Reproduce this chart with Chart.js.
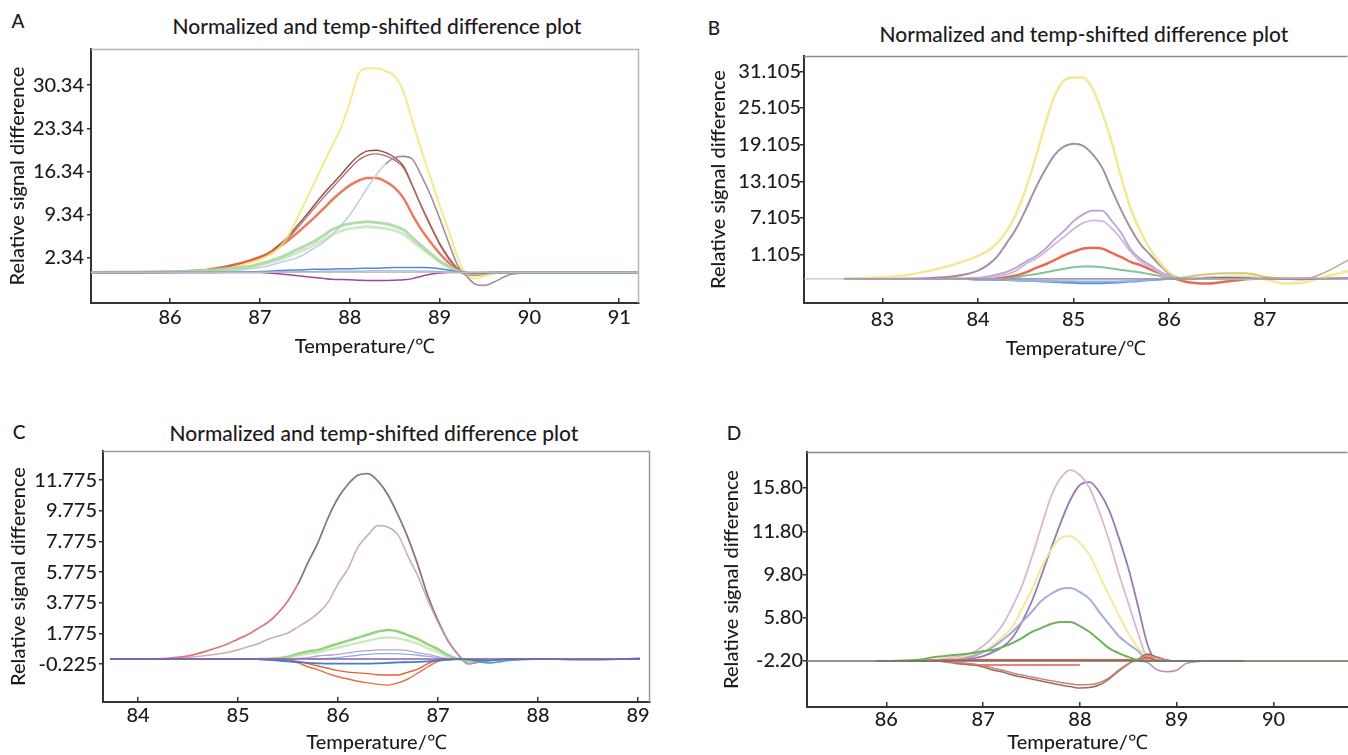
<!DOCTYPE html>
<html><head><meta charset="utf-8">
<script src="https://cdn.jsdelivr.net/npm/chart.js@4.4.1/dist/chart.umd.min.js"></script>
<style>
body{margin:0;background:#fff;width:1348px;height:755px;position:relative;overflow:hidden;font-family:Lato,"Open Sans",sans-serif;color:#1e1a1b;font-weight:500}
canvas{position:absolute}
.lbl{position:absolute;font-size:19px;line-height:1;transform:translate(-50%,-50%)}
.ttl{position:absolute;font-size:21px;line-height:1;white-space:nowrap;transform:translate(-50%,-50%)}
</style></head><body>
<div class="lbl" style="left:18px;top:20px">A</div>
<div class="ttl" style="left:377px;top:25px">Normalized and temp-shifted difference plot</div>
<div class="lbl" style="left:714px;top:27px">B</div>
<div class="ttl" style="left:1084px;top:33px">Normalized and temp-shifted difference plot</div>
<div class="lbl" style="left:19px;top:431px">C</div>
<div class="ttl" style="left:374px;top:432px">Normalized and temp-shifted difference plot</div>
<div class="lbl" style="left:734px;top:432px">D</div>
<canvas id="cA" width="674" height="365" style="left:0;top:0;width:674px;height:365px"></canvas>
<canvas id="cB" width="674" height="365" style="left:674px;top:0;width:674px;height:365px"></canvas>
<canvas id="cC" width="674" height="375" style="left:0;top:380px;width:674px;height:375px"></canvas>
<canvas id="cD" width="674" height="375" style="left:674px;top:380px;width:674px;height:375px"></canvas>
<script>
// ---------- Panel A ----------
const aXTicks = [86, 87, 88, 89, 90, 91];
const aYTicks = [2.34, 9.34, 16.34, 23.34, 30.34];
const aYLabels = ['2.34', '9.34', '16.34', '23.34', '30.34'];
const aXRange = [85.12, 91.22];
const aYRange = [-4.95, 36.2];
const aBase = 0;
const aTemp = [85.12,86.0,86.4,86.7,86.9,87.0,87.1,87.2,87.3,87.4,87.5,87.6,87.7,87.8,87.9,88.0,88.1,88.2,88.3,88.4,88.5,88.6,88.7,88.8,88.9,89.0,89.1,89.2,89.3,89.4,89.5,89.6,89.8,90.2,91.2];
const aYellow = [0,0.1,0.3,0.8,1.6,2.1,2.8,3.8,5.5,8.3,11.3,14.3,17.4,20.4,23.4,27.5,32.2,33.1,33.1,32.6,31.8,29.2,24.4,19.7,15.3,10.9,6.8,2.5,-0.3,-1.0,-0.6,-0.2,0,0,0];
const aBrown1 = [0,0.1,0.4,1.2,2.0,2.5,3.2,4.3,5.6,7.3,9.0,10.8,12.6,14.2,15.8,17.5,18.9,19.7,19.8,19.4,18.6,17.2,14.0,10.6,7.5,4.6,2.3,0.6,-0.2,-0.4,-0.2,0,0,0,0];
const aBrown2 = [0,0.1,0.4,1.1,1.9,2.4,3.0,4.0,5.3,6.9,8.6,10.3,12.0,13.6,15.2,16.8,18.2,19.0,19.2,18.9,18.2,16.9,13.9,10.7,7.7,4.8,2.5,0.7,-0.1,-0.3,-0.2,0,0,0,0];
const aMauve = [0,0,0.1,0.3,0.6,0.8,1.1,1.5,1.9,2.3,3.0,3.9,4.8,6.0,7.6,9.3,11.5,13.8,15.9,17.6,18.6,18.8,18.3,15.6,12.5,8.8,4.9,1.2,-0.6,-1.9,-2.1,-1.6,-0.3,0,0];
const aOrange = [0,0.1,0.4,1.2,2.0,2.5,3.1,4.0,5.0,6.2,7.5,8.8,10.2,11.7,13.0,14.1,14.9,15.3,15.3,14.7,13.7,12.0,9.3,6.9,4.9,3.1,1.6,0.4,-0.3,-0.4,-0.2,0,0,0,0];
const aGreen1 = [0,0.1,0.3,0.7,1.0,1.4,1.8,2.3,2.9,3.6,4.3,5.0,5.9,6.9,7.5,7.9,8.1,8.2,8.1,7.9,7.5,6.9,5.6,4.3,3.1,1.9,1.0,0.3,-0.1,-0.2,-0.1,0,0,0,0];
const aGreen2 = [0,0.1,0.3,0.6,0.9,1.2,1.6,2.0,2.5,3.1,3.7,4.4,5.2,6.1,6.7,7.1,7.3,7.4,7.3,7.1,6.8,6.2,5.0,3.9,2.8,1.7,0.9,0.3,-0.1,-0.2,-0.1,0,0,0,0];
const aBlue1 = [0,0,0,0.05,0.1,0.15,0.2,0.3,0.35,0.4,0.45,0.5,0.5,0.55,0.6,0.6,0.65,0.7,0.7,0.75,0.8,0.8,0.8,0.8,0.75,0.6,0.4,0.1,0,-0.1,-0.1,0,0,0,0];
const aBlue2 = [0,0,0,0,0,0.05,0.05,0.1,0.1,0.1,0.15,0.15,0.2,0.2,0.2,0.2,0.2,0.25,0.25,0.25,0.25,0.25,0.25,0.2,0.2,0.15,0.1,0.05,0,0,0,0,0,0,0];
const aPurple = [0,0,0,0,0,0,-0.1,-0.2,-0.35,-0.5,-0.65,-0.8,-0.95,-1.1,-1.15,-1.2,-1.25,-1.3,-1.3,-1.3,-1.25,-1.2,-1.0,-0.6,-0.3,-0.1,0,0,0,0,0,0,0,0,0];

// ---------- Panel B ----------
const bXTicks = [83, 84, 85, 86, 87];
const bYTicks = [1.105, 7.105, 13.105, 19.105, 25.105, 31.105];
const bYLabels = ['1.105', '7.105', '13.105', '19.105', '25.105', '31.105'];
const bXRange = [82.18, 87.87];
const bYRange = [-6.8, 33.6];
const bBase = -2.85;
const bTemp = [82.6,83.0,83.3,83.5,83.7,83.9,84.0,84.1,84.2,84.3,84.4,84.5,84.6,84.7,84.8,84.9,85.0,85.1,85.2,85.3,85.4,85.5,85.6,85.7,85.8,85.9,86.0,86.1,86.2,86.4,86.6,86.8,87.0,87.2,87.4,87.6,87.87];
const bYellow = [-2.85,-2.6,-2.1,-1.5,-0.7,0.3,0.9,1.7,3.0,5.0,7.8,11.9,16.8,22.3,27.0,29.6,30.1,30.1,28.2,24.3,19.4,13.6,8.5,4.9,2.0,-0.2,-1.8,-2.8,-2.9,-2.7,-2.5,-2.4,-2.9,-3.6,-3.5,-2.6,-1.6];
const bMauve = [-2.85,-2.85,-2.8,-2.7,-2.5,-2.0,-1.5,-0.6,0.8,3.0,5.4,8.5,11.9,14.9,17.4,18.8,19.25,18.9,17.5,15.3,11.7,8.3,5.3,2.8,1.1,-0.6,-2.0,-2.7,-2.85,-2.85,-2.85,-2.85,-2.85,-2.85,-2.85,-2.85,-2.85];
const bLav1 = [-2.85,-2.85,-2.85,-2.85,-2.85,-2.8,-2.7,-2.5,-2.1,-1.7,-1.0,0.0,0.8,2.0,3.6,5.0,6.6,7.7,8.3,8.3,6.6,4.6,1.9,0.4,-0.6,-1.6,-2.4,-2.8,-2.85,-2.6,-2.5,-2.7,-2.85,-2.85,-2.85,-2.85,-2.85];
const bLav2 = [-2.85,-2.85,-2.85,-2.85,-2.85,-2.85,-2.8,-2.7,-2.4,-2.1,-1.5,-0.4,0.4,1.5,2.8,4.0,5.3,6.3,6.7,6.6,5.4,3.6,1.5,0.0,-0.9,-1.8,-2.5,-2.85,-2.85,-2.85,-2.85,-2.85,-2.85,-2.85,-2.85,-2.85,-2.85];
const bOrange = [null,null,null,-2.85,-2.85,-2.85,-2.85,-2.85,-2.8,-2.6,-2.3,-1.8,-1.1,-0.5,0.2,1.0,1.6,2.1,2.25,2.1,1.4,0.7,-0.1,-0.6,-1.3,-1.9,-2.4,-3.0,-3.4,-3.6,-3.3,-2.9,-2.8,-2.85,-2.85,-2.85,-2.85];
const bGreen = [null,null,null,null,null,-2.9,-3.0,-3.0,-2.95,-2.8,-2.6,-2.3,-2.1,-1.8,-1.5,-1.2,-0.95,-0.85,-0.85,-0.95,-1.15,-1.4,-1.6,-1.8,-2.1,-2.4,-2.7,-2.85,-2.85,-2.85,-2.8,-2.85,null,null,null,null,null];
const bBlue1 = [null,null,null,null,null,-2.85,-2.9,-2.95,-3.0,-3.05,-3.1,-3.15,-3.2,-3.3,-3.35,-3.45,-3.5,-3.55,-3.55,-3.55,-3.5,-3.4,-3.3,-3.2,-3.05,-2.95,-2.85,-2.85,null,null,null,null,null,null,null,null,null];
const bBlue2 = [null,null,null,null,null,null,-2.85,-2.9,-2.95,-3.0,-3.05,-3.1,-3.15,-3.2,-3.2,-3.25,-3.25,-3.3,-3.3,-3.3,-3.3,-3.25,-3.2,-3.1,-3.0,-2.9,-2.85,null,null,null,null,null,null,null,null,null,null];
const bPurple = [-2.85,-2.85,-2.85,-2.85,-2.85,-2.85,-2.85,-2.85,-2.85,-2.85,-2.85,-2.85,-2.85,-2.85,-2.85,-2.85,-2.85,-2.85,-2.85,-2.85,-2.85,-2.85,-2.85,-2.85,-2.85,-2.85,-2.85,-2.85,-2.85,-2.75,-2.65,-2.7,-2.85,-2.9,-2.95,-2.85,-2.75];
const bOlive = [null,null,null,null,null,null,null,null,null,null,null,null,null,null,null,null,null,null,null,null,null,null,null,null,null,null,-2.85,-2.7,-2.5,-2.1,-1.95,-1.95,-2.5,-2.85,null,null,null];
const bGrayEnd = [null,null,null,null,null,null,null,null,null,null,null,null,null,null,null,null,null,null,null,null,null,null,null,null,null,null,null,null,null,null,null,null,null,-2.85,-2.9,-2.0,0.2];

// ---------- Panel C ----------
const cXTicks = [84, 85, 86, 87, 88, 89];
const cYTicks = [-0.225, 1.775, 3.775, 5.775, 7.775, 9.775, 11.775];
const cYLabels = ['-0.225', '1.775', '3.775', '5.775', '7.775', '9.775', '11.775'];
const cXRange = [83.65, 89.12];
const cYRange = [-2.7, 13.67];
const cTemp = [83.72,84.0,84.3,84.5,84.7,84.9,85.0,85.1,85.2,85.3,85.4,85.5,85.6,85.7,85.8,85.9,86.0,86.1,86.2,86.3,86.4,86.5,86.6,86.7,86.8,86.9,87.0,87.1,87.2,87.3,87.4,87.5,87.7,88.0,88.5,89.02];
const cBig = [0.1,0.1,0.15,0.3,0.65,1.1,1.4,1.7,2.1,2.5,3.1,3.9,5.0,6.4,7.7,9.3,10.6,11.5,12.1,12.2,11.7,10.8,9.5,8.0,6.2,4.2,2.6,1.3,0.4,-0.2,-0.1,0.0,0.1,0.1,0.1,0.1];
const cSecond = [0.1,0.1,0.1,0.2,0.35,0.55,0.7,0.9,1.1,1.4,1.6,1.8,2.2,2.6,3.1,3.8,5.0,6.0,7.4,8.2,8.8,8.7,8.2,6.8,5.5,3.9,2.5,1.3,0.4,-0.2,-0.1,0.0,0.1,0.1,0.1,0.1];
const cGreen1 = [null,null,null,null,null,null,null,null,0.1,0.1,0.15,0.25,0.45,0.6,0.7,0.9,1.1,1.3,1.5,1.7,1.9,2.0,1.9,1.65,1.4,1.05,0.75,0.35,0.1,0.0,0.0,0.1,null,null,null,null];
const cGreen2 = [null,null,null,null,null,null,null,null,0.1,0.1,0.12,0.2,0.35,0.45,0.55,0.7,0.85,1.0,1.15,1.3,1.45,1.5,1.45,1.3,1.1,0.8,0.55,0.25,0.1,0.0,0.05,0.1,null,null,null,null];
const cLav = [null,null,null,null,null,null,null,null,null,null,0.1,0.1,0.15,0.2,0.3,0.35,0.4,0.5,0.6,0.65,0.7,0.7,0.7,0.65,0.5,0.4,0.25,0.1,0.1,null,null,null,null,null,null,null];
const cBlue1 = [null,null,null,null,null,null,null,null,null,null,null,null,null,0.1,0.12,0.15,0.2,0.28,0.35,0.4,0.45,0.45,0.45,0.4,0.35,0.28,0.2,0.12,0.1,null,null,null,null,null,null,null];
const cBlue2 = [0.1,0.1,0.1,0.1,0.1,0.1,0.1,0.1,0.1,0.05,0.0,-0.05,-0.1,-0.15,-0.18,-0.2,-0.2,-0.2,-0.2,-0.2,-0.18,-0.15,-0.12,-0.1,-0.08,-0.05,0.0,0.05,0.1,0.1,0.05,0.0,0.1,0.1,0.1,0.1];
const cPurpleBase = [0.1,0.1,0.1,0.1,0.1,0.1,0.1,0.1,0.1,0.1,0.1,0.1,0.1,0.1,0.1,0.1,0.1,0.1,0.1,0.1,0.1,0.1,0.1,0.1,0.1,0.1,0.1,0.1,0.1,0.1,0.1,0.1,0.1,0.1,0.05,0.15];
const cTeal = [null,null,null,null,null,null,null,null,null,null,null,null,null,null,null,null,null,null,null,null,null,null,null,null,null,null,null,null,0.1,0.05,-0.05,-0.15,0.0,0.1,null,null];
const cOrange1 = [null,null,null,null,null,null,null,null,null,0.1,0.1,0.05,-0.05,-0.2,-0.35,-0.5,-0.65,-0.75,-0.8,-0.85,-0.92,-0.94,-0.94,-0.75,-0.55,-0.2,0.05,0.1,null,null,null,null,null,null,null,null];
const cOrange2 = [null,null,null,null,null,null,null,null,null,0.1,0.1,0.0,-0.15,-0.4,-0.6,-0.85,-1.05,-1.2,-1.35,-1.45,-1.55,-1.6,-1.45,-1.2,-0.8,-0.4,-0.05,0.1,null,null,null,null,null,null,null,null];

// ---------- Panel D ----------
const dXTicks = [86, 87, 88, 89, 90];
const dYTicks = [-2.2, 5.8, 9.8, 11.8, 15.8];
const dYLabels = ['-2.20', '5.80', '9.80', '11.80', '15.80'];
const dXRange = [85.18, 90.77];
const dYRange = [-10.7, 19.13];
const dBase = -2.2;
const dTemp = [85.9,86.3,86.5,86.7,86.9,87.0,87.1,87.2,87.3,87.4,87.5,87.6,87.7,87.8,87.9,88.0,88.1,88.2,88.3,88.4,88.5,88.6,88.7,88.8,88.9,89.0,89.1,89.3,89.7,90.2,90.77];
const dPink = [-2.2,-2.2,-2.02,-1.46,-0.54,0.57,2.24,4.46,6.79,8.74,10.56,12.19,14.97,16.72,17.46,17.0,15.8,13.58,11.40,9.87,7.16,2.98,-1.65,-2.02,-2.2,-2.2,null,null,null,null,null];
const dPurple = [-2.2,-2.2,-2.02,-1.83,-1.65,-1.28,-0.54,0.39,2.05,5.01,7.26,9.66,10.98,12.56,14.69,16.08,16.35,15.43,13.77,11.53,10.10,6.89,0.76,-2.2,-2.2,-2.2,null,null,null,null,null];
const dYellow = [null,-2.2,-2.2,-1.83,-1.09,-0.54,0.76,2.24,4.09,6.61,8.37,10.10,10.93,11.49,11.58,11.26,10.70,9.75,7.90,6.06,2.98,0.20,-1.2,-2.02,-2.2,-2.2,-2.2,-2.2,-2.2,-2.2,-2.2];
const dBlue = [-2.2,-2.2,-2.2,-2.02,-1.28,-0.54,0.39,1.69,3.16,5.01,6.33,7.35,8.0,8.46,8.55,8.18,7.53,6.33,4.64,2.42,0.95,-0.35,-2.02,-2.2,-2.2,-2.2,null,null,null,null,null];
const dGreen = [-2.2,-2.02,-1.46,-1.09,-0.72,-0.35,-0.17,0.39,1.13,2.05,3.16,3.90,4.64,5.01,5.01,4.27,3.16,1.69,0.20,-0.72,-1.46,-2.02,-2.2,-2.15,-2.2,-2.2,-2.2,-2.2,-2.2,null,null];
const dBrown1 = [-2.2,-2.2,-2.2,-2.57,-2.94,-3.31,-3.86,-4.23,-4.79,-5.16,-5.53,-5.90,-6.27,-6.64,-6.92,-7.19,-7.10,-6.64,-5.53,-4.05,-2.75,-1.83,-0.91,-1.46,-2.02,-2.2,-2.2,null,null,null,null];
const dBrown2 = [-2.2,-2.2,-2.2,-2.45,-2.75,-3.05,-3.5,-3.9,-4.4,-4.8,-5.15,-5.5,-5.85,-6.15,-6.4,-6.6,-6.55,-6.2,-5.3,-3.9,-2.7,-1.9,-1.2,-1.6,-2.1,-2.2,-2.2,null,null,null,null];
const dRed1 = [null,-2.1,-2.05,-2.02,-2.02,-2.02,-2.02,-2.02,-2.02,-2.02,-2.02,-2.02,-2.02,-2.02,-2.02,-2.02,-2.02,-2.02,-2.02,-2.02,-2.02,-2.02,-1.6,-2.1,-2.2,null,null,null,null,null,null];
const dRed2 = [null,null,null,-2.6,-2.9,-2.94,-2.94,-2.94,-2.94,-2.94,-2.94,-2.94,-2.94,-2.94,-2.94,-2.94,null,null,null,null,null,null,null,null,null,null,null,null,null,null,null];
const dPinkDip = [null,null,null,null,null,null,null,null,null,null,null,null,null,null,null,null,null,null,null,null,null,-2.2,-2.5,-3.86,-4.18,-3.9,-2.63,-2.2,null,null,null];

// ---------- helpers ----------
const FONT = 'Lato, "Open Sans", sans-serif';
const TXT = '#1e1a1b';
const TICKFONT = {family: FONT, size: 20, weight: '500'};
const TITLEFONT = {family: FONT, size: 20, weight: '500'};

function series(xs, ys, color, width, extra) {
  const data = [];
  xs.forEach((x, i) => { if (ys[i] !== null && ys[i] !== undefined) data.push({x: x, y: ys[i]}); });
  return Object.assign({data, borderColor: color, borderWidth: width, pointRadius: 0, fill: false,
    cubicInterpolationMode: 'monotone'}, extra || {});
}
function baseline(range, value, color, width) {
  return {data: [{x: range[0], y: value}, {x: range[1], y: value}], borderColor: color,
    borderWidth: width, pointRadius: 0, fill: false, tension: 0};
}

// piecewise axis for panel D (its tick labels sit evenly spaced on the page)
function knotPos(v) {
  const k = dYTicks, n = k.length;
  if (v <= k[1]) return (v - k[0]) / (k[1] - k[0]);
  for (let i = 1; i < n - 1; i++) if (v <= k[i + 1]) return i + (v - k[i]) / (k[i + 1] - k[i]);
  return (n - 2) + (v - k[n - 2]) / (k[n - 1] - k[n - 2]);
}
function knotVal(p) {
  const k = dYTicks, n = k.length;
  if (p <= 1) return k[0] + p * (k[1] - k[0]);
  for (let i = 1; i < n - 1; i++) if (p <= i + 1) return k[i] + (p - i) * (k[i + 1] - k[i]);
  return k[n - 2] + (p - (n - 2)) * (k[n - 1] - k[n - 2]);
}
class KnotScale extends Chart.LinearScale {
  getPixelForValue(value) {
    if (value === null || value === undefined || isNaN(value)) return NaN;
    const a = knotPos(this.min), b = knotPos(this.max);
    return this.getPixelForDecimal((knotPos(value) - a) / (b - a));
  }
  getValueForPixel(pixel) {
    const a = knotPos(this.min), b = knotPos(this.max);
    return knotVal(a + this.getDecimalForPixel(pixel) * (b - a));
  }
}
KnotScale.id = 'knotLinear';
KnotScale.defaults = Chart.LinearScale.defaults;
Chart.register(KnotScale);

const framePlugin = {
  id: 'frame',
  afterDatasetsDraw(chart, args, opts) {
    const ctx = chart.ctx, a = chart.chartArea;
    ctx.save();
    ctx.strokeStyle = opts.color || '#9a9a9a';
    ctx.lineWidth = 1.5;
    ctx.beginPath();
    ctx.moveTo(a.left, a.top + 0.5);
    ctx.lineTo(a.right - 0.5, a.top + 0.5);
    if (opts.right) ctx.lineTo(a.right - 0.5, a.bottom);
    ctx.stroke();
    ctx.restore();
  }
};

function makeChart(id, p) {
  const cv = document.getElementById(id);
  const W = cv.width, H = cv.height;
  return new Chart(cv, {
    type: 'line',
    data: {datasets: p.datasets},
    options: {
      responsive: false, animation: false, events: [],
      layout: {padding: {left: p.padLeft, top: p.box.top, right: W - p.box.right, bottom: 0}},
      plugins: {legend: {display: false}, tooltip: {enabled: false}, frame: {right: p.frameRight, color: p.frameColor}},
      scales: {
        x: {
          type: 'linear', min: p.xRange[0], max: p.xRange[1], bounds: 'data',
          afterBuildTicks: s => { s.ticks = p.xTicks.map(v => ({value: v})); },
          afterFit: s => { s.height = H - p.box.bottom; },
          ticks: {font: TICKFONT, color: TXT, padding: p.xTickPad, maxRotation: 0, autoSkip: false,
            callback: v => String(v)},
          grid: {drawOnChartArea: false, drawTicks: true, tickLength: -5, color: '#333', lineWidth: 1.5},
          border: {display: true, color: '#333', width: 2},
          title: {display: true, text: 'Temperature/℃', font: TITLEFONT, color: TXT,
            padding: {top: 0, bottom: p.xTitlePad}}
        },
        y: {
          type: p.yType || 'linear', min: p.yRange[0], max: p.yRange[1], bounds: 'data',
          afterBuildTicks: s => { s.ticks = p.yTicks.map(v => ({value: v})); },
          afterFit: s => { s.width = p.box.left - p.padLeft; },
          ticks: {font: TICKFONT, color: TXT, padding: p.yTickPad, autoSkip: false,
            callback: (v, i) => p.yLabels[i]},
          grid: {drawOnChartArea: false, drawTicks: true, tickLength: 4, color: '#333', lineWidth: 1.5},
          border: {display: true, color: '#333', width: 2},
          title: {display: true, text: 'Relative signal difference', font: TITLEFONT, color: TXT,
            padding: {top: 0, bottom: 0}}
        }
      }
    },
    plugins: [framePlugin]
  });
}

// ---------- build ----------
makeChart('cA', {
  box: {left: 91, top: 49, right: 639, bottom: 303}, padLeft: 6, xTickPad: 8, xTitlePad: 6, yTickPad: 3,
  xRange: aXRange, yRange: aYRange, xTicks: aXTicks, yTicks: aYTicks, yLabels: aYLabels,
  frameRight: true, frameColor: '#b5b5b5',
  datasets: [
    baseline(aXRange, aBase, 'rgba(190,190,190,0.9)', 1.2),
    series(aTemp, aBlue2, '#8fb0e0', 1.2),
    series(aTemp, aBlue1, '#5d86c9', 1.5),
    series(aTemp, aPurple, '#a2449e', 1.5),
    series(aTemp, aGreen2, 'rgba(175,218,165,0.6)', 3),
    series(aTemp, aGreen1, 'rgba(150,205,140,0.7)', 3),
    series(aTemp, aMauve, '#a58c9c', 1.6, {segment: {borderColor: c => c.p1.parsed.x <= 88.4 ? '#c2cfe8' : undefined}}),
    series(aTemp, aYellow, 'rgba(245,228,110,0.8)', 2),
    series(aTemp, aOrange, 'rgba(232,100,62,0.85)', 2.5),
    series(aTemp, aBrown2, '#b46d64', 1.3),
    series(aTemp, aBrown1, '#8e4a48', 1.4)
  ]
});

makeChart('cB', {
  box: {left: 130, top: 56, right: 674, bottom: 303}, padLeft: 33, xTickPad: 10, xTitlePad: 4, yTickPad: -1,
  xRange: bXRange, yRange: bYRange, xTicks: bXTicks, yTicks: bYTicks, yLabels: bYLabels,
  frameRight: false, frameColor: '#8a8a8a',
  datasets: [
    baseline(bXRange, bBase, 'rgba(185,185,185,0.9)', 1.2),
    series(bTemp, bPurple, '#7e5aa8', 1.5),
    series(bTemp, bBlue2, '#8fb8e6', 2),
    series(bTemp, bBlue1, '#5d8fd6', 2),
    series(bTemp, bGreen, 'rgba(111,185,138,0.85)', 2),
    series(bTemp, bOlive, 'rgba(190,180,80,0.75)', 2),
    series(bTemp, bGrayEnd, '#b5a99a', 1.5),
    series(bTemp, bYellow, 'rgba(240,228,120,0.8)', 2.5),
    series(bTemp, bLav2, '#d0b6de', 1.8),
    series(bTemp, bLav1, '#bba0d2', 1.8),
    series(bTemp, bMauve, '#a6909f', 2),
    series(bTemp, bOrange, 'rgba(229,90,60,0.9)', 2.5)
  ]
});

makeChart('cC', {
  box: {left: 103, top: 71, right: 650, bottom: 322}, padLeft: 7, xTickPad: 7, xTitlePad: 0.5, yTickPad: 2,
  xRange: cXRange, yRange: cYRange, xTicks: cXTicks, yTicks: cYTicks, yLabels: cYLabels,
  frameRight: true, frameColor: '#9a9a9a',
  datasets: [
    series(cTemp, cPurpleBase, '#8a5fb0', 1.5),
    series(cTemp, cBlue2, '#3f7fcf', 1.8),
    series(cTemp, cTeal, '#3aa5a0', 1.5),
    series(cTemp, cOrange1, '#e2603d', 1.4),
    series(cTemp, cOrange2, '#e8703f', 1.4),
    series(cTemp, cBlue1, '#8db3e2', 1.3),
    series(cTemp, cLav, '#b7a2d2', 1.3),
    series(cTemp, cGreen2, 'rgba(170,220,150,0.6)', 2.5),
    series(cTemp, cGreen1, 'rgba(120,200,90,0.8)', 2.5),
    series(cTemp, cSecond, 'rgba(195,160,168,0.85)', 1.6),
    series(cTemp, cBig, '#8c7190', 1.8, {segment: {borderColor: c => c.p1.parsed.x <= 85.6 ? '#dd7a7a' : undefined}})
  ]
});

makeChart('cD', {
  box: {left: 133, top: 72, right: 674, bottom: 327}, padLeft: 46, xTickPad: 6, xTitlePad: 0.5, yTickPad: 0,
  xRange: dXRange, yRange: dYRange, xTicks: dXTicks, yTicks: dYTicks, yLabels: dYLabels, yType: 'knotLinear',
  frameRight: false, frameColor: '#8a8a8a',
  datasets: [
    baseline(dXRange, dBase, '#6f6f6f', 1.5),
    series(dTemp, dGreen, '#6bb35a', 2),
    series(dTemp, dBrown2, '#c08878', 1.5),
    series(dTemp, dBrown1, '#a8665a', 1.5),
    series(dTemp, dRed2, '#f08070', 2),
    series(dTemp, dRed1, '#ee5a40', 2),
    series(dTemp, dPinkDip, '#c98aa6', 1.5),
    series(dTemp, dBlue, '#a3add9', 2),
    series(dTemp, dYellow, 'rgba(244,232,150,0.95)', 2),
    series(dTemp, dPink, '#dbb6d3', 1.8),
    series(dTemp, dPurple, '#9a78b4', 1.8)
  ]
});
</script>
</body></html>
